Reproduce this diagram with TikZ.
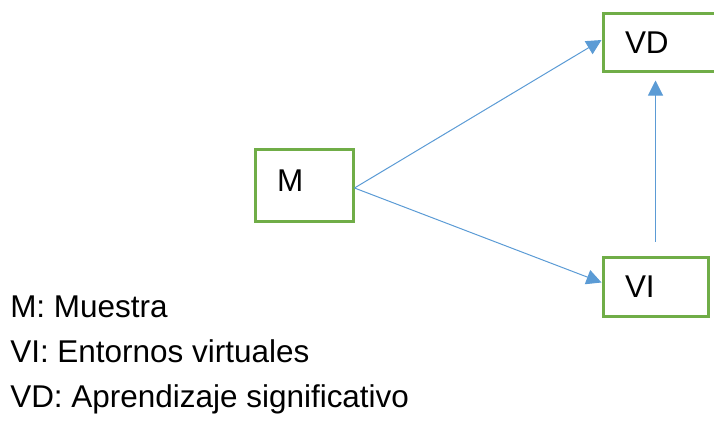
\documentclass[tikz,border=0pt]{standalone}
\usepackage{fontspec}
\setmainfont{Liberation Sans}
\usetikzlibrary{arrows.meta}
\definecolor{boxgreen}{HTML}{70AD47}
\definecolor{arrowblue}{HTML}{5B9BD5}
\tikzset{
  varbox/.style={draw=boxgreen, line width=2.25pt, fill=white, align=left,
    inner xsep=16.5pt, inner ysep=0pt, text height=16.5pt, text depth=0pt,
    font=\fontsize{23.6pt}{28pt}\selectfont},
  conn/.style={draw=arrowblue, line width=0.75pt, -{Triangle[length=11.25pt,width=11.25pt]}},
  legend/.style={anchor=base west, inner sep=0pt, font=\fontsize{23.6pt}{28pt}\selectfont}
}
\begin{document}
\begin{tikzpicture}[x=0.75pt,y=-0.75pt]
\useasboundingbox (0,0) rectangle (714,432);
\clip (0,0) rectangle (714,432);
\node[varbox, text width=40.5pt, minimum height=54pt, text depth=7.5pt] (M) at (304,185) {M};
\node[varbox, text width=54.75pt, minimum height=43.5pt] (VD) at (661.5,42) {VD};
\node[varbox, text width=45.75pt, minimum height=44.25pt] (VI) at (655.5,286.5) {VI};
\draw[conn] ([yshift=-2.25pt]M.east) -- ([yshift=1.5pt]VD.west);
\draw[conn] ([yshift=-2.25pt]M.east) -- ([yshift=3pt]VI.west);
\draw[conn, shorten <=10.5pt, shorten >=6pt] (VI.north) -- (VI.north |- VD.south);
\node[legend] (l1) at (10,317) {M: Muestra};
\node[legend] (l2) at (10,362) {VI: Entornos virtuales};
\node[legend] (l3) at (10,407) {VD: Aprendizaje significativo};
\end{tikzpicture}
\end{document}
